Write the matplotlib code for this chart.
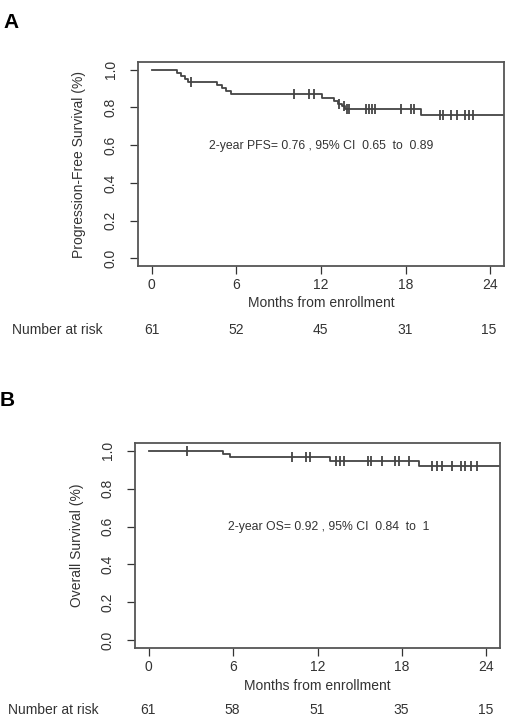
import numpy as np
import matplotlib
matplotlib.use("Agg")
import matplotlib.pyplot as plt

plt.rcParams['font.family'] = ['Liberation Sans', 'DejaVu Sans']

##### DATA #####

# panel A, progression-free survival (step times in months, level after step)
pfs_t = [0, 1.8, 2.1, 2.4, 2.6, 4.6, 5.0, 5.3, 5.6, 12.1, 12.9, 13.2, 13.5, 13.7, 19.1, 26]
pfs_s = [1.0, 0.984, 0.967, 0.951, 0.934, 0.918, 0.902, 0.885, 0.869, 0.852, 0.835, 0.818, 0.805, 0.79, 0.76, 0.76]
pfs_cens = [2.8, 10.1, 11.15, 11.5, 13.3, 13.6, 13.85, 14.0, 15.2, 15.4, 15.6, 15.8,
            17.66, 18.35, 18.6, 20.4, 20.65, 21.2, 21.6, 22.2, 22.45, 22.8]
pfs_risk = [61, 52, 45, 31, 15]
pfs_label = "2-year PFS= 0.76 , 95% CI  0.65  to  0.89"

# panel B, overall survival
os_t = [0, 5.3, 5.8, 12.9, 19.2, 26]
os_s = [1.0, 0.984, 0.967, 0.947, 0.92, 0.92]
os_cens = [2.75, 10.2, 11.15, 11.5, 13.3, 13.6, 13.9, 15.6, 15.8, 16.6, 17.5, 17.8, 18.5,
           20.15, 20.5, 20.85, 21.57, 22.16, 22.5, 22.87, 23.3]
os_risk = [61, 58, 51, 35, 15]
os_label = "2-year OS= 0.92 , 95% CI  0.84  to  1"

months = [0, 6, 12, 18, 24]
yticks = [0.0, 0.2, 0.4, 0.6, 0.8, 1.0]

W, H = 520, 721
line_col = "#444444"
txt_col = "#333333"


def fx(px):
    return px / W


def fy(py):
    return 1 - py / H


def km_panel(rect, t, s, cens, ylab, note, note_xy):
    ax = fig.add_axes(rect)
    ax.step(t, s, where='post', color=line_col, lw=1.3, clip_on=True)
    cy = [s[np.searchsorted(t, c, side='right') - 1] for c in cens]
    ax.plot(cens, cy, ls='none', marker='|', ms=7, mew=1.3, color=line_col)
    ax.set_xlim(-0.96, 24.96)
    ax.set_ylim(-0.04, 1.04)
    ax.set_xticks(months)
    ax.set_yticks(yticks)
    ax.set_yticklabels(["%.1f" % v for v in yticks], rotation=90, va='center')
    ax.tick_params(colors=txt_col, labelsize=10, length=5.5, width=0.9, direction='out', pad=3)
    ax.tick_params(axis='y', pad=9)
    for sp in ax.spines.values():
        sp.set_color("#555555")
        sp.set_linewidth(1.3)
    ax.set_ylabel(ylab, fontsize=10, color=txt_col, labelpad=12.5)
    ax.text(note_xy[0], note_xy[1], note, fontsize=8.8, color=txt_col, ha='center', va='center')
    return ax


fig = plt.figure(figsize=(W / 100, H / 100), dpi=100)

# panel A
km_panel([fx(138), fy(266), fx(504) - fx(138), fy(62) - fy(266)],
         pfs_t, pfs_s, pfs_cens, "Progression-Free Survival (%)", pfs_label, (12.0, 0.595))
fig.text(fx(3), fy(22), "A", fontsize=15, fontweight='bold', ha='left', va='center')
fig.text(fx(321), fy(303), "Months from enrollment", fontsize=10, color=txt_col, ha='center', va='center')
fig.text(fx(12), fy(330), "Number at risk", fontsize=10, color=txt_col, ha='left', va='center')
for m, n in zip(months, pfs_risk):
    fig.text(fx(152 + m * 14.04), fy(330), str(n), fontsize=10, color=txt_col, ha='center', va='center')

# panel B
km_panel([fx(135), fy(648), fx(500) - fx(135), fy(443) - fy(648)],
         os_t, os_s, os_cens, "Overall Survival (%)", os_label, (12.8, 0.597))
fig.text(fx(0), fy(401), "B", fontsize=15, fontweight='bold', ha='left', va='center')
fig.text(fx(317), fy(686), "Months from enrollment", fontsize=10, color=txt_col, ha='center', va='center')
fig.text(fx(8), fy(710), "Number at risk", fontsize=10, color=txt_col, ha='left', va='center')
for m, n in zip(months, os_risk):
    fig.text(fx(148 + m * 14.08), fy(710), str(n), fontsize=10, color=txt_col, ha='center', va='center')

fig.savefig("out.png", dpi=100)
